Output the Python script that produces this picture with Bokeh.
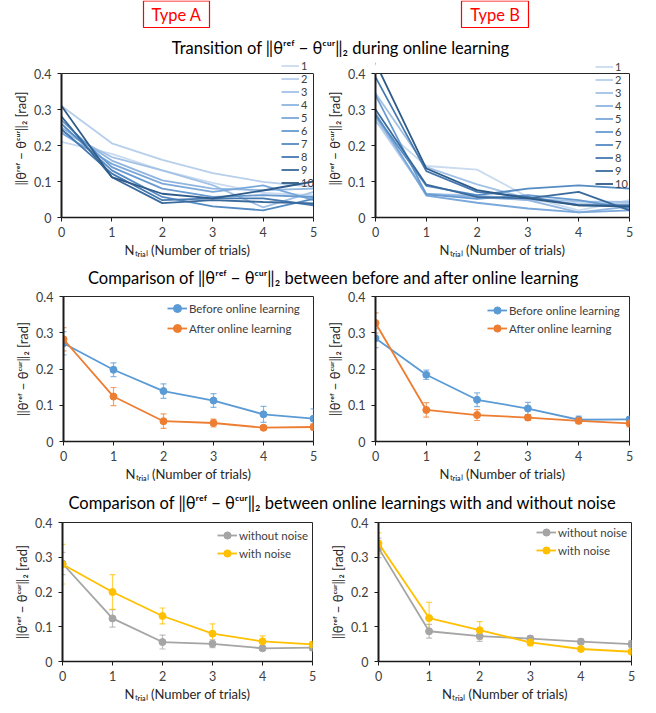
from bokeh.plotting import figure
from bokeh.models import (Range1d, FixedTicker, Whisker, TeeHead, ColumnDataSource, Legend,
                          LegendItem, Span, LinearAxis)
from bokeh.layouts import column, row
from bokeh.embed import file_html
from bokeh.resources import INLINE
from bokeh.core.properties import value

FONT = "Lato"
TXT = "#404040"
FRAME = "#262626"

# ---------------- data ----------------
trials = [0, 1, 2, 3, 4, 5]
x_tick_labels = ["0", "1", "2", "3", "4", "5"]
y_ticks = [0, 0.1, 0.2, 0.3, 0.4]
y_tick_labels = ["0", "0.1", "0.2", "0.3", "0.4"]
run_names = ["1", "2", "3", "4", "5", "6", "7", "8", "9", "10"]

# Transition during online learning, Type A (10 runs)
typeA_runs = [
    [0.21, 0.177, 0.131, 0.096, 0.068, 0.062],
    [0.31, 0.206, 0.160, 0.123, 0.099, 0.085],
    [0.24, 0.168, 0.131, 0.090, 0.028, 0.071],
    [0.25, 0.158, 0.103, 0.080, 0.076, 0.080],
    [0.235, 0.149, 0.094, 0.071, 0.089, 0.048],
    [0.27, 0.140, 0.080, 0.057, 0.062, 0.057],
    [0.26, 0.131, 0.057, 0.031, 0.020, 0.052],
    [0.245, 0.122, 0.048, 0.053, 0.053, 0.034],
    [0.28, 0.112, 0.040, 0.048, 0.043, 0.039],
    [0.31, 0.112, 0.066, 0.053, 0.075, 0.100],
]
# Transition during online learning, Type B (10 runs)
typeB_runs = [
    [0.265, 0.143, 0.133, 0.057, 0.020, 0.048],
    [0.27, 0.065, 0.062, 0.048, 0.039, 0.039],
    [0.345, 0.140, 0.092, 0.053, 0.045, 0.043],
    [0.28, 0.066, 0.057, 0.048, 0.014, 0.030],
    [0.29, 0.061, 0.041, 0.025, 0.014, 0.020],
    [0.34, 0.064, 0.052, 0.062, 0.048, 0.025],
    [0.285, 0.088, 0.062, 0.080, 0.089, 0.080],
    [0.39, 0.129, 0.071, 0.057, 0.034, 0.034],
    [0.30, 0.091, 0.057, 0.053, 0.071, 0.020],
    [0.43, 0.136, 0.076, 0.053, 0.034, 0.030],
]

# Before / after online learning (mean, error)
A_before = [0.271, 0.198, 0.139, 0.113, 0.075, 0.063]
A_before_err = [0.032, 0.019, 0.020, 0.019, 0.022, 0.027]
A_after = [0.282, 0.124, 0.056, 0.051, 0.038, 0.040]
A_after_err = [0.032, 0.025, 0.020, 0.011, 0.006, 0.009]
B_before = [0.285, 0.184, 0.115, 0.091, 0.060, 0.061]
B_before_err = [0.026, 0.013, 0.019, 0.017, 0.010, 0.006]
B_after = [0.327, 0.087, 0.073, 0.066, 0.057, 0.050]
B_after_err = [0.028, 0.020, 0.015, 0.008, 0.008, 0.010]

# With / without noise (mean, error)
A_without = [0.282, 0.124, 0.056, 0.051, 0.038, 0.040]
A_without_err = [0.032, 0.025, 0.020, 0.011, 0.006, 0.009]
A_with = [0.280, 0.200, 0.131, 0.080, 0.058, 0.049]
A_with_err = [0.057, 0.050, 0.023, 0.028, 0.016, 0.007]
B_without = [0.327, 0.087, 0.073, 0.066, 0.057, 0.050]
B_without_err = [0.028, 0.020, 0.015, 0.008, 0.008, 0.010]
B_with = [0.340, 0.125, 0.090, 0.055, 0.036, 0.028]
B_with_err = [0.030, 0.045, 0.025, 0.010, 0.005, 0.005]

run_colors = ["#CADBF0", "#B7CFEB", "#A3C2E6", "#8FB5E0", "#7BA8DA",
              "#679AD0", "#558BC3", "#4679B0", "#3A699C", "#2F5B88"]
C_BLUE, C_ORANGE, C_GRAY, C_YELLOW = "#5B9BD5", "#ED7D31", "#A5A5A5", "#FFC000"

Y_LABEL = "‖θʳᵉᶠ − θᶜᵘʳ‖₂ [rad]"
X_LABEL = "Nₜᵣᵢₐₗ (Number of trials)"
Y_MAX = 0.4


def style_axis(ax):
    ax.axis_line_color = "#1a1a1a"
    ax.major_tick_line_color = "#1a1a1a"
    ax.minor_tick_line_color = None
    ax.major_tick_in = 0
    ax.major_tick_out = 4
    ax.major_label_text_font = FONT
    ax.major_label_text_font_size = "12.5px"
    ax.major_label_text_color = TXT
    ax.axis_label_text_font = FONT
    ax.axis_label_text_font_size = "13px"
    ax.axis_label_text_font_style = "normal"
    ax.axis_label_text_color = "#262626"


def panel(width, height, bl, br, bt, bb, y_top=Y_MAX):
    p = figure(width=width, height=height, x_range=Range1d(0, 5), y_range=Range1d(0, y_top),
               min_border_left=bl, min_border_right=br, min_border_top=bt, min_border_bottom=bb,
               toolbar_location=None, output_backend="svg")
    p.grid.visible = False
    p.outline_line_color = FRAME
    p.outline_line_width = 1
    p.xaxis.ticker = FixedTicker(ticks=trials)
    p.xaxis.major_label_overrides = {t: l for t, l in zip(trials, x_tick_labels)}
    p.yaxis.ticker = FixedTicker(ticks=y_ticks)
    p.yaxis.major_label_overrides = {t: l for t, l in zip(y_ticks, y_tick_labels)}
    style_axis(p.xaxis[0])
    style_axis(p.yaxis[0])
    p.yaxis.axis_line_width = 2
    p.xaxis.axis_line_width = 1.5
    p.xaxis.major_label_standoff = 5
    p.yaxis.major_label_standoff = 6
    p.xaxis.axis_label = X_LABEL
    p.yaxis.axis_label = Y_LABEL
    p.xaxis.axis_label_standoff = 2
    p.yaxis.axis_label_standoff = 2
    return p


def tall_panel(width, height, bl, br, bt, bb, y_top):
    # frame extends a little above 0.4 so that the legend may rise above the plot box
    p = panel(width, height, bl, br, bt, bb, y_top)
    p.outline_line_color = None
    p.yaxis.bounds = (0, Y_MAX)
    right = LinearAxis(bounds=(0, Y_MAX), ticker=FixedTicker(ticks=[]), axis_line_color=FRAME,
                       axis_line_width=1, major_tick_out=0, major_tick_in=0,
                       minor_tick_out=0, minor_tick_in=0, major_label_standoff=0)
    p.add_layout(right, "right")
    return p


def style_legend(items, loc, h, gw, fs):
    return Legend(items=items, location=loc, padding=0, margin=0, spacing=0,
                  glyph_height=h, label_height=h, glyph_width=gw, label_standoff=2,
                  border_line_color=None, background_fill_alpha=0,
                  label_text_font=FONT, label_text_font_size=fs, label_text_color=TXT,
                  label_text_line_height=1.0)


def runs_panel(p, runs, loc, h, y_top):
    items = []
    for name, vals, col in zip(run_names, runs, run_colors):
        r = p.line(trials, vals, line_color=col, line_width=1.8)
        items.append(LegendItem(label=name, renderers=[r]))
    # keep the band above 0.4 empty, like the clipped plot box of the original
    p.quad(left=[0], right=[5], bottom=[Y_MAX], top=[y_top], fill_color="white", line_color=None)
    p.add_layout(Span(location=Y_MAX, dimension="width", line_color=FRAME, line_width=1))
    p.add_layout(style_legend(items, loc, h, 18, "11px"), "center")


def mean_panel(p, series, loc, h):
    items = []
    for name, vals, errs, col in series:
        src = ColumnDataSource(dict(x=trials, y=vals,
                                    upper=[v + e for v, e in zip(vals, errs)],
                                    lower=[v - e for v, e in zip(vals, errs)]))
        w = Whisker(base="x", upper="upper", lower="lower", source=src,
                    line_color=col, line_alpha=0.7, line_width=1.2,
                    upper_head=TeeHead(size=6, line_color=col, line_alpha=0.7, line_width=1.2),
                    lower_head=TeeHead(size=6, line_color=col, line_alpha=0.7, line_width=1.2))
        p.add_layout(w)
        l = p.line("x", "y", source=src, line_color=col, line_width=1.8)
        m = p.scatter("x", "y", source=src, size=7, fill_color=col, line_color=col)
        items.append(LegendItem(label=name, renderers=[l, m]))
    p.add_layout(style_legend(items, loc, h, 20, "11.5px"), "center")


def text_strip(height, texts):
    p = figure(width=656, height=height, x_range=Range1d(0, 656), y_range=Range1d(height, 0),
               min_border=0, toolbar_location=None, output_backend="svg")
    p.axis.visible = False
    p.grid.visible = False
    p.outline_line_color = None
    for (x, y, t, col, fs) in texts:
        p.text(x=[x], y=[y], text=[t], text_font=value(FONT), text_font_size=fs,
               text_color=col, text_align="center", text_baseline="middle")
    return p


# ---------------- header ----------------
header = text_strip(57, [
    (176, 14, "Type A", "#FF0000", "16.5px"),
    (494.5, 14, "Type B", "#FF0000", "16.5px"),
    (340, 47, "Transition of ‖θʳᵉᶠ − θᶜᵘʳ‖₂ during online learning", "#000000", "16.5px"),
])
header.quad(left=[143, 461], right=[209, 528], top=[0.5, 0.5], bottom=[27, 27],
            fill_color=None, line_color="#FF0000", line_width=1.2)

title2 = text_strip(28, [(333, 15, "Comparison of ‖θʳᵉᶠ − θᶜᵘʳ‖₂ between before and after online learning",
                          "#000000", "16.5px")])
title3 = text_strip(24, [(342, 12, "Comparison of ‖θʳᵉᶠ − θᶜᵘʳ‖₂ between online learnings with and without noise",
                          "#000000", "16.5px")])

# ---------------- row 1 ----------------
Y_TOP1 = Y_MAX + 14 * Y_MAX / 144
pA1 = tall_panel(322, 205, 61, 9, 2, 45, Y_TOP1)
runs_panel(pA1, typeA_runs, (220, 28), 13, Y_TOP1)
pB1 = tall_panel(334, 205, 53, 27, 2, 45, Y_TOP1)
runs_panel(pB1, typeB_runs, (220, 27), 13, Y_TOP1)

# ---------------- row 2 ----------------
pA2 = panel(322, 200, 63, 9, 6, 49)
mean_panel(pA2, [("Before online learning", A_before, A_before_err, C_BLUE),
                 ("After online learning", A_after, A_after_err, C_ORANGE)], (104, 103), 20)
pB2 = panel(334, 200, 53, 27, 6, 49)
mean_panel(pB2, [("Before online learning", B_before, B_before_err, C_BLUE),
                 ("After online learning", B_after, B_after_err, C_ORANGE)], (112, 104), 18)

# ---------------- row 3 ----------------
pA3 = panel(322, 190, 62, 10, 8, 36)
mean_panel(pA3, [("without noise", A_without, A_without_err, C_GRAY),
                 ("with noise", A_with, A_with_err, C_YELLOW)], (155, 99), 18)
pB3 = panel(334, 190, 56, 25, 8, 36)
mean_panel(pB3, [("without noise", B_without, B_without_err, C_GRAY),
                 ("with noise", B_with, B_with_err, C_YELLOW)], (158, 102), 18)

layout = column(header, row(pA1, pB1), title2, row(pA2, pB2), title3, row(pA3, pB3))

open("out.html", "w").write(file_html(layout, INLINE))
